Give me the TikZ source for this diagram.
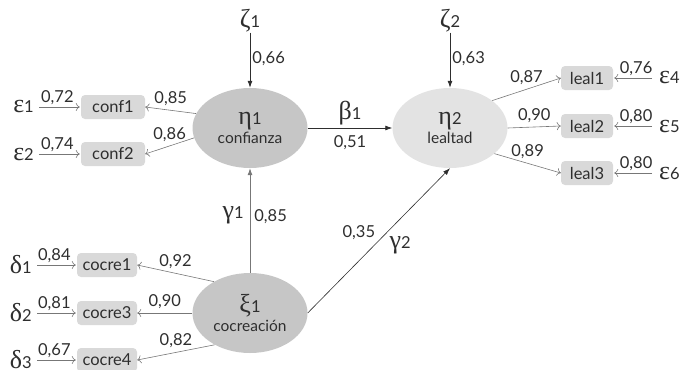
\documentclass[tikz,border=0pt]{standalone}
\usepackage{fontspec}
\setmainfont{Lato}
\newfontfamily\greekfont{Liberation Serif}
\usetikzlibrary{arrows.meta,shapes.geometric}
\definecolor{latdark}{HTML}{C6C6C6}
\definecolor{latlight}{HTML}{E3E3E3}
\definecolor{boxfill}{HTML}{D9D9D9}
\definecolor{ink}{HTML}{2E2E2E}
\definecolor{thinline}{HTML}{777777}
% Greek symbol followed by a Lato index on the same baseline
\newcommand\gsym[2]{{\greekfont\fontsize{26}{26}\selectfont #1}#2}

\begin{document}
\begin{tikzpicture}[x=1pt,y=-1pt,
  font=\fontsize{16.5}{19}\selectfont, text=ink,
  latent/.style={ellipse, minimum width=115pt, minimum height=80pt,
    inner sep=0pt, align=center},
  ind/.style={rectangle, rounded corners=4pt, fill=boxfill,
    minimum height=24pt, inner sep=0pt},
  errsym/.style={inner sep=0pt},
  meas/.style={draw=thinline, line width=0.6pt,
    -{To[length=4pt,width=8pt]}},
  struct/.style={draw=ink, line width=0.8pt,
    -{Latex[length=7pt,width=5pt]}},
  lbl/.style={inner sep=2pt}]

\useasboundingbox (0,0) rectangle (684,369);

% latent variables
\node[latent, fill=latdark]  (eta1) at (250,128) {\gsym{η}{1}\\[0pt]{\fontsize{15.5}{18}\selectfont confianza}};
\node[latent, fill=latlight] (eta2) at (450,128) {\gsym{η}{2}\\[0pt]{\fontsize{15.5}{18}\selectfont lealtad}};
\node[latent, fill=latdark]  (xi1)  at (250,313) {\gsym{ξ}{1}\\[0pt]{\fontsize{15.5}{18}\selectfont cocreación}};

% disturbances
\node[errsym] (z1) at (250,21) {\gsym{ζ}{1}};
\node[errsym] (z2) at (450,21) {\gsym{ζ}{2}};

% indicators
\node[ind, minimum width=64pt] (conf1) at (113,107) {conf1};
\node[ind, minimum width=64pt] (conf2) at (113,154) {conf2};
\node[ind, minimum width=60pt] (cocre1) at (107,265) {cocre1};
\node[ind, minimum width=60pt] (cocre3) at (107,313) {cocre3};
\node[ind, minimum width=60pt] (cocre4) at (107,360) {cocre4};
\node[ind, minimum width=52pt] (leal1) at (587,78) {leal1};
\node[ind, minimum width=52pt] (leal2) at (587,126) {leal2};
\node[ind, minimum width=52pt] (leal3) at (587,173) {leal3};

% measurement errors
\node[errsym, anchor=east] (e1) at (34,107) {\gsym{ε}{1}};
\node[errsym, anchor=east] (e2) at (34,154) {\gsym{ε}{2}};
\node[errsym, anchor=east] (d1) at (32,265) {\gsym{δ}{1}};
\node[errsym, anchor=east] (d2) at (32,313) {\gsym{δ}{2}};
\node[errsym, anchor=east] (d3) at (32,360) {\gsym{δ}{3}};
\node[errsym, anchor=west] (e4) at (659,78) {\gsym{ε}{4}};
\node[errsym, anchor=west] (e5) at (659,126) {\gsym{ε}{5}};
\node[errsym, anchor=west] (e6) at (659,173) {\gsym{ε}{6}};

% structural paths
\draw[struct] (z1) -- (eta1) node[lbl, midway, right, yshift=2pt] (lz1) {0,66};
\draw[struct] (z2) -- (eta2) node[lbl, midway, right, yshift=2pt] (lz2) {0,63};
\draw[struct] (eta1) -- (eta2)
  node[lbl, midway, above, yshift=1pt] (lb1) {\gsym{β}{1}}
  node[lbl, midway, below, yshift=-5pt] (lb2) {0,51};
\draw[struct, draw=thinline] (xi1) -- (eta1)
  node[lbl, midway, left, xshift=-4pt, yshift=5pt] (lg1) {\gsym{γ}{1}}
  node[lbl, midway, right, xshift=2pt, yshift=4pt] (lg2) {0,85};
\draw[struct, line width=0.6pt] (xi1.east) -- (eta2.south)
  node[lbl, pos=.49, anchor=south east] (lg3) {0,35}
  node[lbl, pos=.56, anchor=north west, yshift=-2pt] (lg4) {\gsym{γ}{2}};

% loadings
\draw[meas] (eta1.165) -- (conf1.east) node[lbl, midway, above, yshift=2pt] (l1) {0,85};
\draw[meas] (eta1.190) -- (conf2.east) node[lbl, midway, above, yshift=2pt] (l2) {0,86};
\draw[meas] (xi1.139) -- (cocre1.east) node[lbl, midway, above, yshift=2pt] (l3) {0,92};
\draw[meas] (xi1.west) -- (cocre3.east) node[lbl, midway, above, yshift=2pt] (l4) {0,90};
\draw[meas] (xi1.222) -- (cocre4.east) node[lbl, midway, above, yshift=2pt] (l5) {0,82};
\draw[meas] (eta2.33) -- (leal1.west) node[lbl, midway, above, yshift=2pt] (l6) {0,87};
\draw[meas] (eta2.east) -- (leal2.west) node[lbl, midway, above, yshift=2pt] (l7) {0,90};
\draw[meas] (eta2.-30) -- (leal3.west) node[lbl, midway, above, yshift=2pt] (l8) {0,89};

% error paths
\draw[meas, shorten <=5pt, shorten >=1pt] (e1.east) -- (conf1.west) node[lbl, midway, above] (m1) {0,72};
\draw[meas, shorten <=5pt, shorten >=1pt] (e2.east) -- (conf2.west) node[lbl, midway, above] (m2) {0,74};
\draw[meas, shorten <=5pt, shorten >=1pt] (d1.east) -- (cocre1.west) node[lbl, midway, above] (m3) {0,84};
\draw[meas, shorten <=5pt, shorten >=1pt] (d2.east) -- (cocre3.west) node[lbl, midway, above] (m4) {0,81};
\draw[meas, shorten <=5pt, shorten >=1pt] (d3.east) -- (cocre4.west) node[lbl, midway, above] (m5) {0,67};
\draw[meas, shorten <=7pt, shorten >=1pt] (e4.west) -- (leal1.east) node[lbl, midway, above] (m6) {0,76};
\draw[meas, shorten <=7pt, shorten >=1pt] (e5.west) -- (leal2.east) node[lbl, midway, above] (m7) {0,80};
\draw[meas, shorten <=7pt, shorten >=1pt] (e6.west) -- (leal3.east) node[lbl, midway, above] (m8) {0,80};
\end{tikzpicture}
\end{document}
